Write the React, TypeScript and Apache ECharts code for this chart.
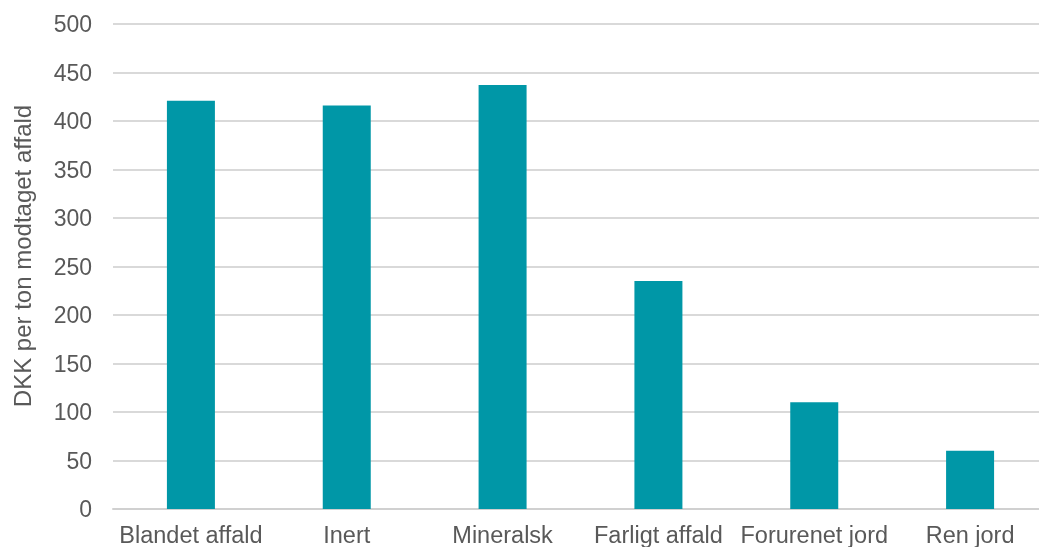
import React, { useEffect, useRef } from "react";
import * as echarts from "echarts";

const categories = ["Blandet affald", "Inert", "Mineralsk", "Farligt affald", "Forurenet jord", "Ren jord"];
const values = [421, 416, 437, 235, 110, 60];
const yAxisName = "DKK per ton modtaget affald";

export default function App() {
  const ref = useRef<HTMLDivElement>(null);
  useEffect(() => {
    const chart = echarts.init(ref.current!, null, { renderer: "svg" });
    const font = "'Liberation Sans', Arial, sans-serif";
    chart.setOption({
      animation: false,
      grid: { left: 113, right: 0, top: 24, bottom: 38, containLabel: false, outerBoundsMode: "none" },
      graphic: [
        {
          type: "text",
          x: 22,
          y: 256,
          rotation: Math.PI / 2,
          style: {
            text: yAxisName,
            fill: "#595959",
            fontSize: 24,
            fontFamily: font,
            textAlign: "center",
            textVerticalAlign: "middle",
          },
        },
      ],
      xAxis: {
        type: "category",
        data: categories,
        axisTick: { show: false },
        axisLine: { lineStyle: { color: "#d0d0d0", width: 2 } },
        axisLabel: { color: "#595959", fontSize: 23.5, fontFamily: font, margin: 14, interval: 0 },
      },
      yAxis: {
        type: "value",
        min: 0,
        max: 500,
        interval: 50,
        axisLine: { show: false },
        axisTick: { show: false },
        axisLabel: { color: "#595959", fontSize: 23, fontFamily: font, margin: 21 },
        splitLine: { lineStyle: { color: "#d9d9d9", width: 2 } },
      },
      series: [
        {
          type: "bar",
          data: values,
          barWidth: 48,
          itemStyle: { color: "#0097a7" },
        },
      ],
    });
    return () => chart.dispose();
  }, []);
  return (
    <div style={{ position: "fixed", left: 0, top: 0, width: 1039, height: 547, overflow: "hidden" }}>
      <div ref={ref} style={{ width: 1048, height: 547 }} />
    </div>
  );
}
